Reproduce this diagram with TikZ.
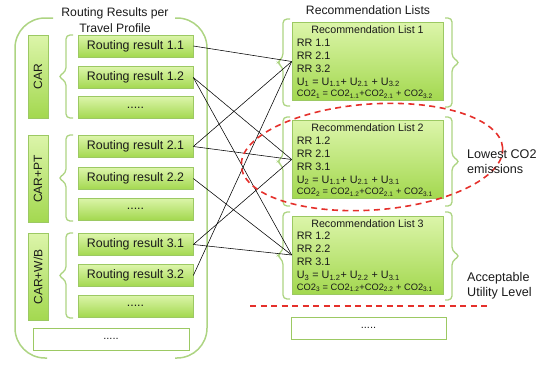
\documentclass[tikz,border=0pt]{standalone}
\usepackage{fontspec}
\setmainfont{Liberation Sans}
\usetikzlibrary{shadows,calc}
\definecolor{gtop}{HTML}{DCF5AA}
\definecolor{gbot}{HTML}{A3D84F}
\definecolor{gline}{HTML}{9CC963}
\definecolor{brkc}{HTML}{ADD482}
\definecolor{dred}{HTML}{E5302B}
\definecolor{txt}{HTML}{1A1A1A}
\newcommand{\bracel}[4]{% x, y1, y2, tip
  \draw[brk] ({#1+7},#2) -- (#1,#2) -- (#1,{(#2+#3)/2-5}) -- ({#1-#4},{(#2+#3)/2}) -- (#1,{(#2+#3)/2+5}) -- (#1,#3) -- ({#1+7},#3);}
\newcommand{\bracer}[4]{% x, y1, y2, tip
  \draw[brk] ({#1-7},#2) -- (#1,#2) -- (#1,{(#2+#3)/2-5}) -- ({#1+#4},{(#2+#3)/2}) -- (#1,{(#2+#3)/2+5}) -- (#1,#3) -- ({#1-7},#3);}
\begin{document}
\begin{tikzpicture}[x=1pt,y=-1pt,
  every node/.style={text=txt},
  gbox/.style={draw=gline, line width=0.6pt, top color=gtop, bottom color=gbot,
    drop shadow={shadow xshift=0.8pt, shadow yshift=-0.9pt, opacity=0.3},
    inner sep=0pt},
  rrbox/.style={gbox, minimum width=115pt, minimum height=22pt, font=\fontsize{12.4}{14}\selectfont},
  modebox/.style={gbox, rotate=90, minimum height=20pt, font=\fontsize{12}{14}\selectfont},
  rlbox/.style={gbox, minimum width=151pt, minimum height=78pt},
  wbox/.style={draw=gline, line width=1pt, fill=white, inner sep=0pt, font=\fontsize{11}{13}\selectfont},
  hdr/.style={font=\fontsize{10.7}{12}\selectfont, inner sep=0pt},
  ln/.style={font=\fontsize{10.8}{12}\selectfont, inner sep=0pt, anchor=west},
  lns/.style={font=\fontsize{9.3}{10}\selectfont, inner sep=0pt, anchor=west},
  ttl/.style={font=\fontsize{12.2}{14}\selectfont, inner sep=0pt},
  lbl/.style={font=\fontsize{12.6}{14}\selectfont, inner sep=0pt, anchor=west},
  brk/.style={draw=brkc, line width=1.3pt, rounded corners=4pt},
  bigbrk/.style={draw=brkc, line width=1.5pt, rounded corners=30pt},
  conn/.style={draw=black, line width=0.55pt},
  reddash/.style={draw=dred, line width=1.6pt, dash pattern=on 6pt off 4.5pt}
]
\useasboundingbox (0,0) rectangle (551,367);

% titles
\node[ttl] (t1) at (115,13) {Routing Results per};
\node[ttl] (t2) at (115,28) {Travel Profile};
\node[ttl] (t3) at (368,10) {Recommendation Lists};

% big parentheses
\draw[bigbrk] (53,18) -- (15,18) -- (15,358) -- (47,358);
\draw[bigbrk] (175,18) -- (207,18) -- (207,358) -- (175,358);

% mode boxes
\node[modebox, minimum width=83pt] (car) at (38,76.5) {CAR};
\node[modebox, minimum width=87pt] (carpt) at (38,179) {CAR+PT};
\node[modebox, minimum width=87pt] (carwb) at (38,277) {CAR+W/B};

% braces for modes
\bracel{66}{35}{118}{8}
\bracel{66}{135}{221}{8}
\bracel{66}{233}{318}{8}

% routing results
\node[rrbox] (r11) at (135.5,46) {Routing result 1.1};
\node[rrbox] (r12) at (135.5,77.5) {Routing result 1.2};
\node[rrbox] (r1d) at (135.5,107.5) {.....};
\node[rrbox] (r21) at (135.5,146.5) {Routing result 2.1};
\node[rrbox] (r22) at (135.5,178.5) {Routing result 2.2};
\node[rrbox] (r2d) at (135.5,209) {.....};
\node[rrbox] (r31) at (135.5,244.5) {Routing result 3.1};
\node[rrbox] (r32) at (135.5,275.5) {Routing result 3.2};
\node[rrbox] (r3d) at (135.5,306) {.....};

\node[wbox, minimum width=156pt, minimum height=22pt] (ld) at (111,339) {.....};

% braces for lists
\bracel{283}{19}{106}{6}
\bracer{452}{18}{107}{8}
\bracel{283}{117}{206}{6}
\bracer{452}{117}{206}{8}
\bracel{283}{212}{299}{6}
\bracer{452}{212}{300}{8}

% recommendation lists
\node[rlbox] (rl1) at (367.5,61.5) {};
\node[rlbox] (rl2) at (367.5,159.5) {};
\node[rlbox] (rl3) at (367.5,255) {};

\node[hdr] (h1) at ($(rl1.north)+(0,7.5)$) {Recommendation List 1};
\node[ln] (a1) at ($(rl1.north west)+(5,20.5)$) {RR 1.1};
\node[ln] (b1) at ($(rl1.north west)+(5,33.5)$) {RR 2.1};
\node[ln] (c1) at ($(rl1.north west)+(5,46.5)$) {RR 3.2};
\node[ln] (u1) at ($(rl1.north west)+(5,60)$) {U\textsubscript{1} = U\textsubscript{1.1}+ U\textsubscript{2.1} + U\textsubscript{3.2}};
\node[lns] (e1) at ($(rl1.north west)+(5,72)$) {CO2\textsubscript{1} = CO2\textsubscript{1.1}+CO2\textsubscript{2.1} + CO2\textsubscript{3.2}};

\node[hdr] (h2) at ($(rl2.north)+(0,7.5)$) {Recommendation List 2};
\node[ln] (a2) at ($(rl2.north west)+(5,20.5)$) {RR 1.2};
\node[ln] (b2) at ($(rl2.north west)+(5,33.5)$) {RR 2.1};
\node[ln] (c2) at ($(rl2.north west)+(5,46.5)$) {RR 3.1};
\node[ln] (u2) at ($(rl2.north west)+(5,60)$) {U\textsubscript{2} = U\textsubscript{1.1}+ U\textsubscript{2.1} + U\textsubscript{3.1}};
\node[lns] (e2) at ($(rl2.north west)+(5,72)$) {CO2\textsubscript{2} = CO2\textsubscript{1.2}+CO2\textsubscript{2.1} + CO2\textsubscript{3.1}};

\node[hdr] (h3) at ($(rl3.north)+(0,7.5)$) {Recommendation List 3};
\node[ln] (a3) at ($(rl3.north west)+(5,20.5)$) {RR 1.2};
\node[ln] (b3) at ($(rl3.north west)+(5,33.5)$) {RR 2.2};
\node[ln] (c3) at ($(rl3.north west)+(5,46.5)$) {RR 3.1};
\node[ln] (u3) at ($(rl3.north west)+(5,60)$) {U\textsubscript{3} = U\textsubscript{1.2}+ U\textsubscript{2.2} + U\textsubscript{3.1}};
\node[lns] (e3) at ($(rl3.north west)+(5,72)$) {CO2\textsubscript{3} = CO2\textsubscript{1.2}+CO2\textsubscript{2.2} + CO2\textsubscript{3.1}};

\node[wbox, minimum width=155pt, minimum height=22pt] (rd) at (368.5,328) {.....};

% connectors
\draw[conn] (r11.east) -- (rl1.west);
\draw[conn] (r21.east) -- (rl1.west);
\draw[conn] (r32.east) -- (rl1.west);
\draw[conn] (r12.east) -- (rl2.west);
\draw[conn] (r21.east) -- (rl2.west);
\draw[conn] (r31.east) -- (rl2.west);
\draw[conn] (r12.east) -- (rl3.west);
\draw[conn] (r22.east) -- (rl3.west);
\draw[conn] (r31.east) -- (rl3.west);

% red dashed marks
\draw[reddash, rotate around={4:(372,157)}] (372,157) ellipse [x radius=131pt, y radius=53pt];
\coordinate (dl) at (250,306);
\coordinate (dr) at (490,306);
\draw[reddash] (dl) -- (dr);

% labels
\node[lbl] (lw1) at (467,154) {Lowest CO2};
\node[lbl] (lw2) at (467,169) {emissions};
\node[lbl] (ac1) at (467,278) {Acceptable};
\node[lbl] (ac2) at (467,293) {Utility Level};
\end{tikzpicture}
\end{document}
